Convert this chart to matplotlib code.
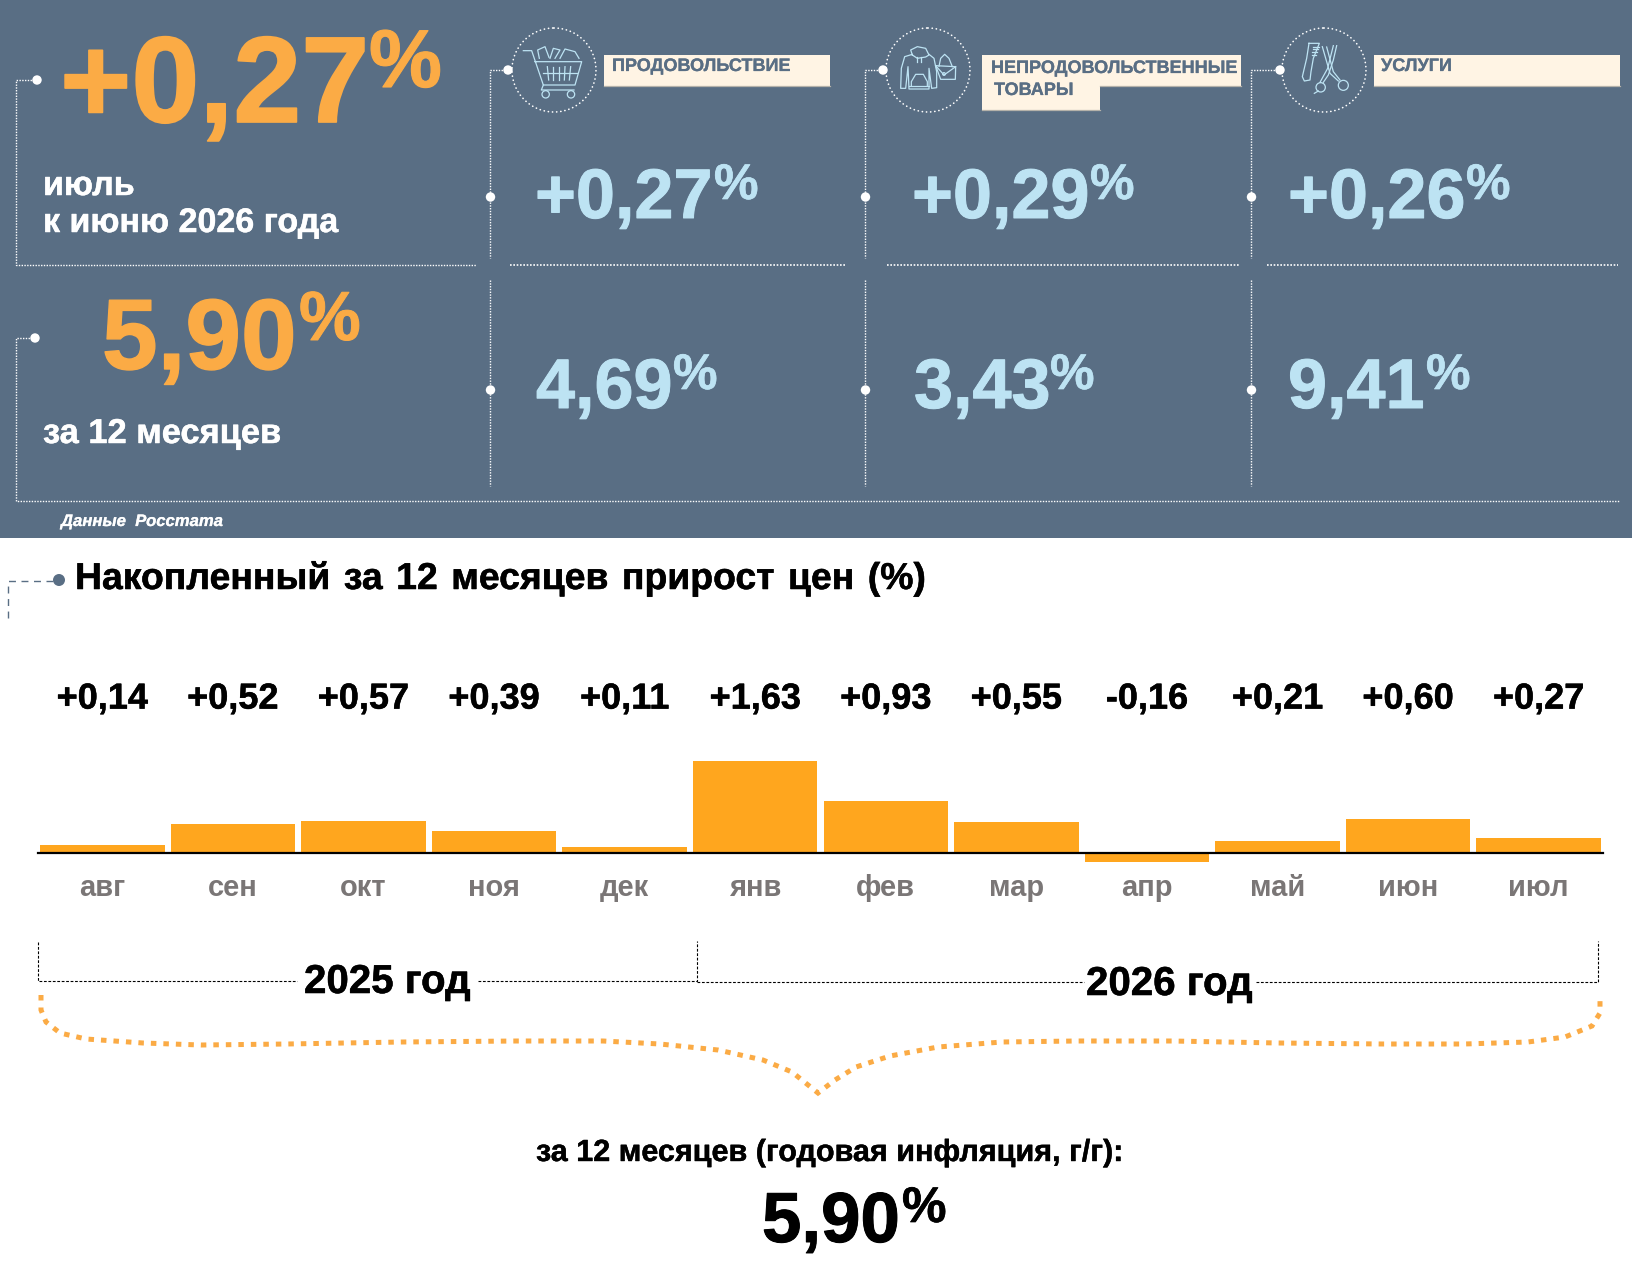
import matplotlib
matplotlib.use('Agg')
import matplotlib.pyplot as plt
from matplotlib.patches import Rectangle, Circle
import matplotlib.patheffects as pe

plt.rcParams['font.family'] = ['Liberation Sans', 'DejaVu Sans']

# chart values
months = ['авг', 'сен', 'окт', 'ноя', 'дек', 'янв', 'фев', 'мар', 'апр', 'май', 'июн', 'июл']
changes = [0.14, 0.52, 0.57, 0.39, 0.11, 1.63, 0.93, 0.55, -0.16, 0.21, 0.60, 0.27]
change_labels = ['+0,14', '+0,52', '+0,57', '+0,39', '+0,11', '+1,63', '+0,93', '+0,55', '-0,16', '+0,21', '+0,60', '+0,27']
month_cards = ['+0,27', '+0,29', '+0,26']
year_cards = ['4,69', '3,43', '9,41']
headline_month = '+0,27'
headline_year = '5,90'

W, H = 1633, 1285
PANEL = '#596E84'
ORANGE = '#FBAB45'
BLUE = '#BDE3F3'
BOX = '#FFF4E4'
BAR = '#FFA61E'
GRAY = '#7A7676'

fig = plt.figure(figsize=(W / 100, H / 100), dpi=100, facecolor='white')

# whole figure axes in pixels, y going down, for the infographic furniture
bg = fig.add_axes([0, 0, 1, 1])
bg.set_xlim(0, W)
bg.set_ylim(H, 0)
bg.axis('off')
bg.add_patch(Rectangle((0, 0), W, 538, facecolor=PANEL, edgecolor='none'))


def heavy(color, size):
    # the original glyphs are a touch fatter than Liberation bold
    return [pe.withStroke(linewidth=size * 0.014, foreground=color)]


def txt(x, y, s, size, color, **kw):
    kw.setdefault('fontweight', 'bold')
    t = bg.text(x, y, s, fontsize=size, color=color, ha='left', va='baseline', **kw)
    t.set_path_effects(heavy(color, size))
    return t


def dotted(xs, ys, lw=1.0):
    bg.plot(xs, ys, color='white', lw=lw, linestyle=(0, (1, 1)))


def dot(x, y, r=4.7):
    bg.add_patch(Circle((x, y), r, facecolor='white', edgecolor='none', zorder=5))


def sketch(x0, y0, lines, rings=()):
    # icon strokes are measured on a 3x crop
    for pts in lines:
        bg.plot([x0 + p[0] / 3 for p in pts], [y0 + p[1] / 3 for p in pts],
                color=BLUE, lw=0.9, solid_joinstyle='round')
    for cx, cy, r in rings:
        bg.add_patch(Circle((x0 + cx / 3, y0 + cy / 3), r / 3, fill=False, edgecolor=BLUE, lw=0.9))


# dotted frames
dotted([37, 16.5, 16.5, 476], [80, 80, 264.5, 264.5], 1.0)
dot(37, 80)
dotted([35, 16.5, 16.5, 1620], [338, 338, 501, 501], 1.0)
dot(35, 338)
dotted([510, 846], [264.5, 264.5], 1.2)
dotted([887, 1239], [264.5, 264.5], 1.2)
dotted([1267, 1618], [264.5, 264.5], 1.2)

for vx, dx, cx in [(490.5, 508, 554), (865.5, 883, 928), (1251.5, 1280, 1324)]:
    dotted([dx, vx, vx], [70, 70, 258], 1.0)
    dotted([vx, vx], [280, 486], 1.0)
    dot(dx, 70)
    dot(vx, 197)
    dot(vx, 390)
    bg.add_patch(Circle((cx, 70), 42, fill=False, edgecolor='white', lw=1.2,
                        linestyle=(0, (0.1, 2.4)), capstyle='round'))

# icons
sketch(510, 25, [
    [(40, 77), (65, 77), (100, 180), (195, 180), (215, 110), (75, 110)],
    [(100, 180), (94, 195), (192, 195)],
    [(98, 145), (200, 145)],
    [(112, 125), (116, 165)], [(130, 125), (130, 165)], [(147, 125), (147, 165)],
    [(165, 125), (163, 165)], [(182, 125), (178, 165)],
    [(88, 100), (83, 75), (105, 65), (117, 97)],
    [(120, 100), (130, 70), (150, 75), (135, 100)],
    [(150, 100), (165, 72), (195, 80), (207, 100)],
], rings=[(107, 208, 11), (183, 208, 11)])

sketch(884, 25, [
    [(85, 90), (80, 75), (100, 65), (125, 70), (135, 90), (125, 96), (100, 100), (85, 90)],
    [(85, 88), (62, 95), (52, 130), (50, 190), (65, 190), (72, 125), (75, 192), (135, 192), (135, 130), (143, 190), (158, 188), (158, 140), (150, 100), (135, 88)],
    [(75, 182), (135, 182)],
    [(82, 182), (82, 170), (95, 148), (118, 148), (130, 170), (130, 182)],
    [(100, 95), (100, 112)], [(112, 95), (112, 112)],
    [(155, 122), (215, 125), (214, 163), (170, 163), (155, 122)],
    [(165, 124), (170, 100), (182, 88), (195, 100), (205, 125)],
    [(155, 122), (180, 150), (215, 125)],
], rings=[(180, 147, 4)])

sketch(1285, 25, [
    [(72, 55), (103, 55), (85, 100), (78, 140), (75, 165), (58, 168), (52, 155), (65, 100), (72, 55)],
    [(84, 65), (101, 65)], [(83, 73), (98, 73)], [(82, 81), (95, 81)], [(81, 89), (92, 89)],
    [(112, 65), (135, 145), (160, 168)],
    [(125, 66), (145, 140), (165, 165)],
    [(155, 62), (145, 105), (130, 150), (115, 172)],
    [(145, 62), (128, 130), (105, 172)],
    [(100, 198), (88, 205)],
], rings=[(175, 181, 15), (107, 187, 14)])


# boxes with the sector names
def box(x0, x1, y0, y1, line_from=None):
    bg.add_patch(Rectangle((x0, y0), x1 - x0, y1 - y0, facecolor=BOX, edgecolor='none', zorder=2))
    bg.plot([line_from if line_from else x0, x1], [y1, y1], color='#B5B2AA', lw=0.9, zorder=3)


box(604, 830, 55, 86)
box(982, 1241, 55, 86, line_from=1100)
box(982, 1100, 55, 110)
box(1374, 1620, 55, 86)
txt(612, 71, 'ПРОДОВОЛЬСТВИЕ', 13, PANEL, zorder=4)
txt(991, 73, 'НЕПРОДОВОЛЬСТВЕННЫЕ', 13, PANEL, zorder=4)
txt(994, 95, 'ТОВАРЫ', 13, PANEL, zorder=4)
txt(1381, 71, 'УСЛУГИ', 13, PANEL, zorder=4)

# headline numbers
txt(60, 122, headline_month, 88, ORANGE)
txt(369, 87, '%', 59, ORANGE)
txt(102, 369, headline_year, 72, ORANGE)
txt(299, 340, '%', 50, ORANGE)
txt(43, 195, 'июль', 24.5, 'white')
txt(43, 232, 'к июню 2026 года', 24.5, 'white')
txt(43, 443, 'за 12 месяцев', 24.8, 'white')
txt(61, 526, 'Данные  Росстата', 12, 'white', fontstyle='italic')

# cards
for x, px, s in zip([535, 912, 1288], [714, 1090, 1466], month_cards):
    txt(x, 218, s, 50.5, BLUE)
    txt(px, 199, '%', 36, BLUE)
for x, px, s in zip([536, 914, 1288], [673, 1050, 1426], year_cards):
    txt(x, 408, s, 50.5, BLUE)
    txt(px, 389, '%', 36, BLUE)

# title of the lower block
bg.plot([8, 8, 55], [618, 581, 581], color=PANEL, lw=1.0, linestyle=(0, (5, 4)))
bg.add_patch(Circle((59, 580), 6, facecolor=PANEL, edgecolor='none'))
txt(75, 589, 'Накопленный\u200a за\u200a 12\u200a месяцев\u200a прирост\u200a цен\u200a (%)', 26.9, 'black')

# bars
ax = fig.add_axes([37 / W, 1 - 910 / H, (1604 - 37) / W, (910 - 670) / H])
ax.patch.set_alpha(0)
ax.set_xlim(-0.5, 11.5)
ax.set_ylim(-57 / 56.4, 183 / 56.4)
xpos = list(range(len(months)))
ax.bar(xpos, changes, width=0.953, color=BAR, linewidth=0)
for sp in ['top', 'left', 'right']:
    ax.spines[sp].set_visible(False)
ax.spines['bottom'].set_position(('data', 0))
ax.spines['bottom'].set_linewidth(1.6)
ax.spines['bottom'].set_color('black')
ax.spines['bottom'].set_bounds(-0.49, 11.49)
ax.set_yticks([])
ax.set_xticks(xpos)
ax.set_xticklabels(months, fontsize=21, fontweight='bold', color=GRAY)
ax.tick_params(axis='x', length=0, pad=15)
for x, s in zip(xpos, change_labels):
    t = ax.text(x, 2.56, s, fontsize=26, fontweight='bold', color='black', ha='center', va='baseline')
    t.set_path_effects(heavy('black', 26))

# year brackets
dash = dict(color='black', lw=0.8, linestyle=(0, (2.5, 1.5)))
bg.plot([38, 38, 297], [942, 981, 981], **dash)
bg.plot([478, 697.5, 697.5], [981, 981, 941], **dash)
bg.plot([697.5, 1084], [982, 982], **dash)
bg.plot([1256, 1598, 1598], [982, 982, 941], **dash)
txt(304, 993, '2025 год', 29, 'black')
txt(1086, 995, '2026 год', 29, 'black')

# orange brace
brace_x = [41, 41, 46, 60, 86, 143, 201, 287, 402, 517, 603, 660, 718, 763, 792, 818,
           835, 856, 890, 938, 1002, 1076, 1172, 1278, 1384, 1464, 1528, 1565, 1592, 1600, 1600]
brace_y = [995, 1010, 1022, 1033, 1039, 1043, 1045, 1044, 1042, 1041, 1041, 1044, 1050, 1060, 1072, 1093,
           1080, 1067, 1056, 1047, 1042, 1041, 1041, 1043, 1044, 1044, 1042, 1037, 1026, 1013, 995]
bg.plot(brace_x, brace_y, color=ORANGE, lw=3.6, linestyle=(0, (1.1, 1.4)), dash_capstyle='butt', dash_joinstyle='miter')

# summary at the bottom
txt(536, 1161, 'за 12 месяцев (годовая инфляция, г/г):', 22, 'black')
txt(762, 1242, headline_year, 51, 'black')
txt(902, 1222, '%', 36, 'black')

fig.savefig('out.png', dpi=100)
